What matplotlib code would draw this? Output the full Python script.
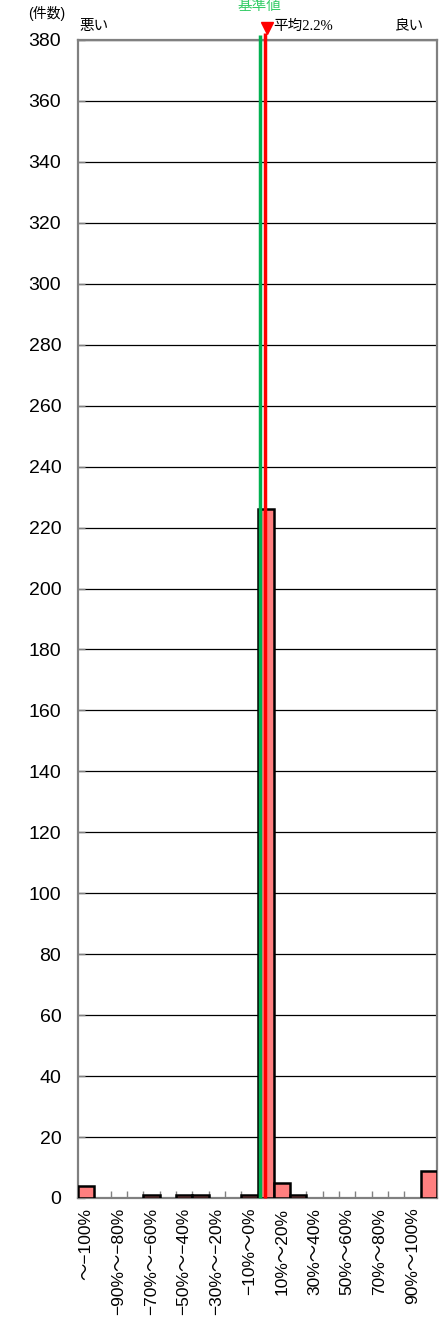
import matplotlib
matplotlib.use("Agg")
import matplotlib.pyplot as plt
import matplotlib.transforms as mtransforms
import numpy as np

# ---- data ----
bin_labels = ["～−100%", "−100%～−90%", "−90%～−80%", "−80%～−70%", "−70%～−60%",
              "−60%～−50%", "−50%～−40%", "−40%～−30%", "−30%～−20%", "−20%～−10%",
              "−10%～0%", "0%～10%", "10%～20%", "20%～30%", "30%～40%", "40%～50%",
              "50%～60%", "60%～70%", "70%～80%", "80%～90%", "90%～100%", "100%～"]
bin_left = [-110, -100, -90, -80, -70, -60, -50, -40, -30, -20, -10,
            0, 10, 20, 30, 40, 50, 60, 70, 80, 90, 100]
counts = [4, 0, 0, 0, 1, 0, 1, 1, 0, 0, 1, 226, 5, 1, 0, 0, 0, 0, 0, 0, 0, 9]
baseline_value = 0.0
mean_value = 2.2
y_ticks = list(range(0, 381, 20))

plt.rcParams['font.family'] = ['Liberation Sans', 'Noto Sans CJK JP']

fig = plt.figure(figsize=(4.46, 13.17), dpi=100)
ax = fig.add_axes([78/446, 1 - 1198/1317, (437 - 78)/446, (1198 - 40)/1317])

bin_w = 10
centers = [b + bin_w/2 for b in bin_left]
for x, c in zip(centers, counts):
    if c > 0:
        ax.bar(x, c, width=bin_w, color='#FF7F7F', edgecolor='black', linewidth=1.8, zorder=3)

ax.set_xlim(bin_left[0], bin_left[-1] + bin_w)
ax.set_ylim(0, 380)
ax.set_yticks(y_ticks)
ax.yaxis.grid(True, color='black', linewidth=0.9, zorder=0)
ax.set_axisbelow(True)
ax.tick_params(axis='y', direction='in', length=5, color='#808080', width=1,
               labelsize=14, pad=12)

# x labels every other bin
lab_idx = list(range(0, 21, 2))
ax.set_xticks([centers[i] for i in lab_idx])
ax.set_xticklabels([bin_labels[i] for i in lab_idx], rotation=90, fontsize=12.5,
                   va='top', ha='center')
ax.tick_params(axis='x', length=0, pad=7)
ax.set_xticks(bin_left[1:], minor=True)
ax.tick_params(axis='x', which='minor', direction='in', length=5, color='#808080', width=1)

for s in ax.spines.values():
    s.set_color('#808080')
    s.set_linewidth(1.6)

trans = ax.get_xaxis_transform()
off_g = mtransforms.ScaledTranslation(2/100, 0, fig.dpi_scale_trans)
off_r = mtransforms.ScaledTranslation(3.5/100, 0, fig.dpi_scale_trans)
ax.plot([baseline_value, baseline_value], [0, 1.004], color='#00B050', linewidth=2.5,
        clip_on=False, zorder=4, transform=trans + off_g, solid_capstyle='butt')
ax.plot([mean_value, mean_value], [0, 1.006], color='#FF0000', linewidth=2.5,
        clip_on=False, zorder=5, transform=trans + off_r, solid_capstyle='butt')

off_m = mtransforms.ScaledTranslation(6/100, 0, fig.dpi_scale_trans)
ax.plot([mean_value], [1.0105], marker='v', color='#FF0000', markersize=9,
        transform=trans + off_m, clip_on=False, zorder=6, linestyle='none')
ax.text(mean_value, 1.0115, '平均2.2%',
        transform=trans + mtransforms.ScaledTranslation(12/100, 0, fig.dpi_scale_trans),
        fontsize=10.5, va='center', ha='left', family=['Liberation Serif', 'Noto Sans CJK JP'])
ax.text(baseline_value, 1.0295, '基準値', transform=trans + off_g, fontsize=10.5,
        color='#33CC66', ha='center', va='center')

fig.text(79/446, 1 - 26/1317, '悪い', fontsize=10.5, ha='left', va='center')
fig.text(424/446, 1 - 25/1317, '良い', fontsize=10.5, ha='right', va='center')
fig.text(47/446, 1 - 13/1317, '(件数)', fontsize=10, ha='center', va='center')

fig.savefig('out.png', dpi=100)
